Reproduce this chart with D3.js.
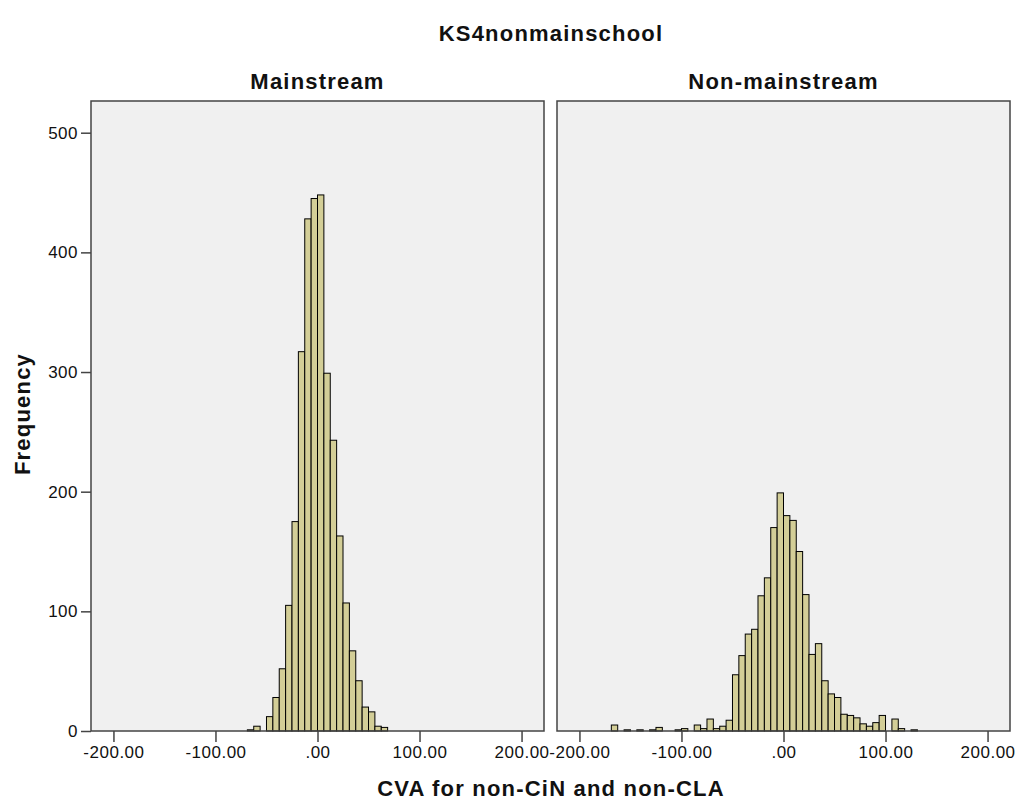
<!DOCTYPE html>
<html>
<head>
<meta charset="utf-8">
<script src="https://cdn.jsdelivr.net/npm/d3@7/dist/d3.min.js"></script>
<style>
  html, body { margin: 0; padding: 0; background: #ffffff; }
  svg { display: block; font-family: "Liberation Sans", Arial, sans-serif; }
</style>
</head>
<body>
<svg id="chart" width="1016" height="801"></svg>
<script>
// Histogram bins: lower edge of each bin and its frequency
const binWidth = 6.25;

const mainstreamStart = [-68.75, -62.5, -56.25, -50, -43.75, -37.5, -31.25, -25, -18.75, -12.5, -6.25,
  0, 6.25, 12.5, 18.75, 25, 31.25, 37.5, 43.75, 50, 56.25, 62.5];
const mainstreamCount = [1, 4, 0, 12, 28, 52, 105, 175, 317, 428, 445,
  448, 299, 243, 163, 107, 67, 42, 20, 16, 4, 3];

const nonMainStart = [-168.75, -156.25, -143.75, -131.25, -125, -106.25, -100, -87.5, -81.25, -75, -68.75,
  -62.5, -56.25, -50, -43.75, -37.5, -31.25, -25, -18.75, -12.5, -6.25,
  0, 6.25, 12.5, 18.75, 25, 31.25, 37.5, 43.75, 50, 56.25, 62.5, 68.75, 75, 81.25, 87.5, 93.75,
  106.25, 112.5, 125];
const nonMainCount = [5, 1, 1, 1, 3, 1, 2, 5, 2, 10, 2,
  4, 9, 47, 63, 81, 85, 113, 128, 170, 199,
  180, 176, 150, 114, 64, 73, 42, 31, 28, 14, 13, 11, 6, 4, 7, 13,
  10, 2, 1];

const panelTitles = ["Mainstream", "Non-mainstream"];
const xTicks = [-200, -100, 0, 100, 200];
const yTicks = [0, 100, 200, 300, 400, 500];

const chartTitle = "KS4nonmainschool";
const xLabel = "CVA for non-CiN and non-CLA";
const yLabel = "Frequency";

const panels = [
  { title: panelTitles[0], start: mainstreamStart, count: mainstreamCount, left: 91 },
  { title: panelTitles[1], start: nonMainStart, count: nonMainCount, left: 557 }
];

const svg = d3.select("#chart");
const plotTop = 101, plotBottom = 731, panelW = 453;

const y = d3.scaleLinear().domain([0, 526.5]).range([plotBottom, plotTop]);
// plain hyphen for negatives, and zero written as ".00"
const locale = d3.formatLocale({ decimal: ".", thousands: ",", grouping: [3], currency: ["", ""], minus: "-" });
const fmt2 = locale.format(".2f");
const fmt = v => { const s = fmt2(v); return s === "0.00" ? ".00" : s; };

panels.forEach((p, i) => {
  const x = d3.scaleLinear().domain([-222, 222]).range([p.left, p.left + panelW]);
  const g = svg.append("g");

  g.append("rect")
    .attr("x", p.left).attr("y", plotTop)
    .attr("width", panelW).attr("height", plotBottom - plotTop)
    .attr("fill", "#f0f0f0");

  const bins = p.start.map((s, j) => ({ s, c: p.count[j] })).filter(d => d.c > 0);
  g.selectAll("rect.bar").data(bins).join("rect")
    .attr("class", "bar")
    .attr("x", d => x(d.s))
    .attr("width", d => x(d.s + binWidth) - x(d.s))
    .attr("y", d => y(d.c))
    .attr("height", d => y(0) - y(d.c))
    .attr("fill", "#d3ce97")
    .attr("stroke", "#000")
    .attr("stroke-width", 1);

  g.append("rect")
    .attr("x", p.left).attr("y", plotTop)
    .attr("width", panelW).attr("height", plotBottom - plotTop)
    .attr("fill", "none")
    .attr("stroke", "#444")
    .attr("stroke-width", 1.5);

  const xa = g.append("g")
    .attr("transform", `translate(0,${plotBottom})`)
    .call(d3.axisBottom(x).tickValues(xTicks).tickFormat(fmt).tickSize(11).tickPadding(4));
  xa.select(".domain").remove();
  xa.selectAll("line").attr("stroke", "#444").attr("stroke-width", 1.5);
  xa.selectAll("text").attr("fill", "#111").style("font-size", "17px").style("letter-spacing", "0.5px");

  g.append("text")
    .attr("x", p.left + panelW / 2).attr("y", 89)
    .attr("text-anchor", "middle")
    .style("font-size", "22px").style("font-weight", "bold").style("letter-spacing", "1.2px")
    .attr("fill", "#111")
    .text(p.title);

  if (i === 0) {
    const ya = g.append("g")
      .attr("transform", `translate(${p.left},0)`)
      .call(d3.axisLeft(y).tickValues(yTicks).tickSize(10).tickPadding(3));
    ya.select(".domain").remove();
    ya.selectAll("line").attr("stroke", "#444").attr("stroke-width", 1.5);
    ya.selectAll("text").attr("fill", "#111").style("font-size", "17px").style("letter-spacing", "0.5px");
  }
});

svg.append("text")
  .attr("x", 551).attr("y", 41)
  .attr("text-anchor", "middle")
  .style("font-size", "22px").style("font-weight", "bold").style("letter-spacing", "1.2px")
  .attr("fill", "#111")
  .text(chartTitle);

svg.append("text")
  .attr("x", 551).attr("y", 796)
  .attr("text-anchor", "middle")
  .style("font-size", "22px").style("font-weight", "bold").style("letter-spacing", "1.2px")
  .attr("fill", "#111")
  .text(xLabel);

svg.append("text")
  .attr("transform", "translate(30,414) rotate(-90)")
  .attr("text-anchor", "middle")
  .style("font-size", "22px").style("font-weight", "bold").style("letter-spacing", "1.2px")
  .attr("fill", "#111")
  .text(yLabel);
</script>
</body>
</html>
